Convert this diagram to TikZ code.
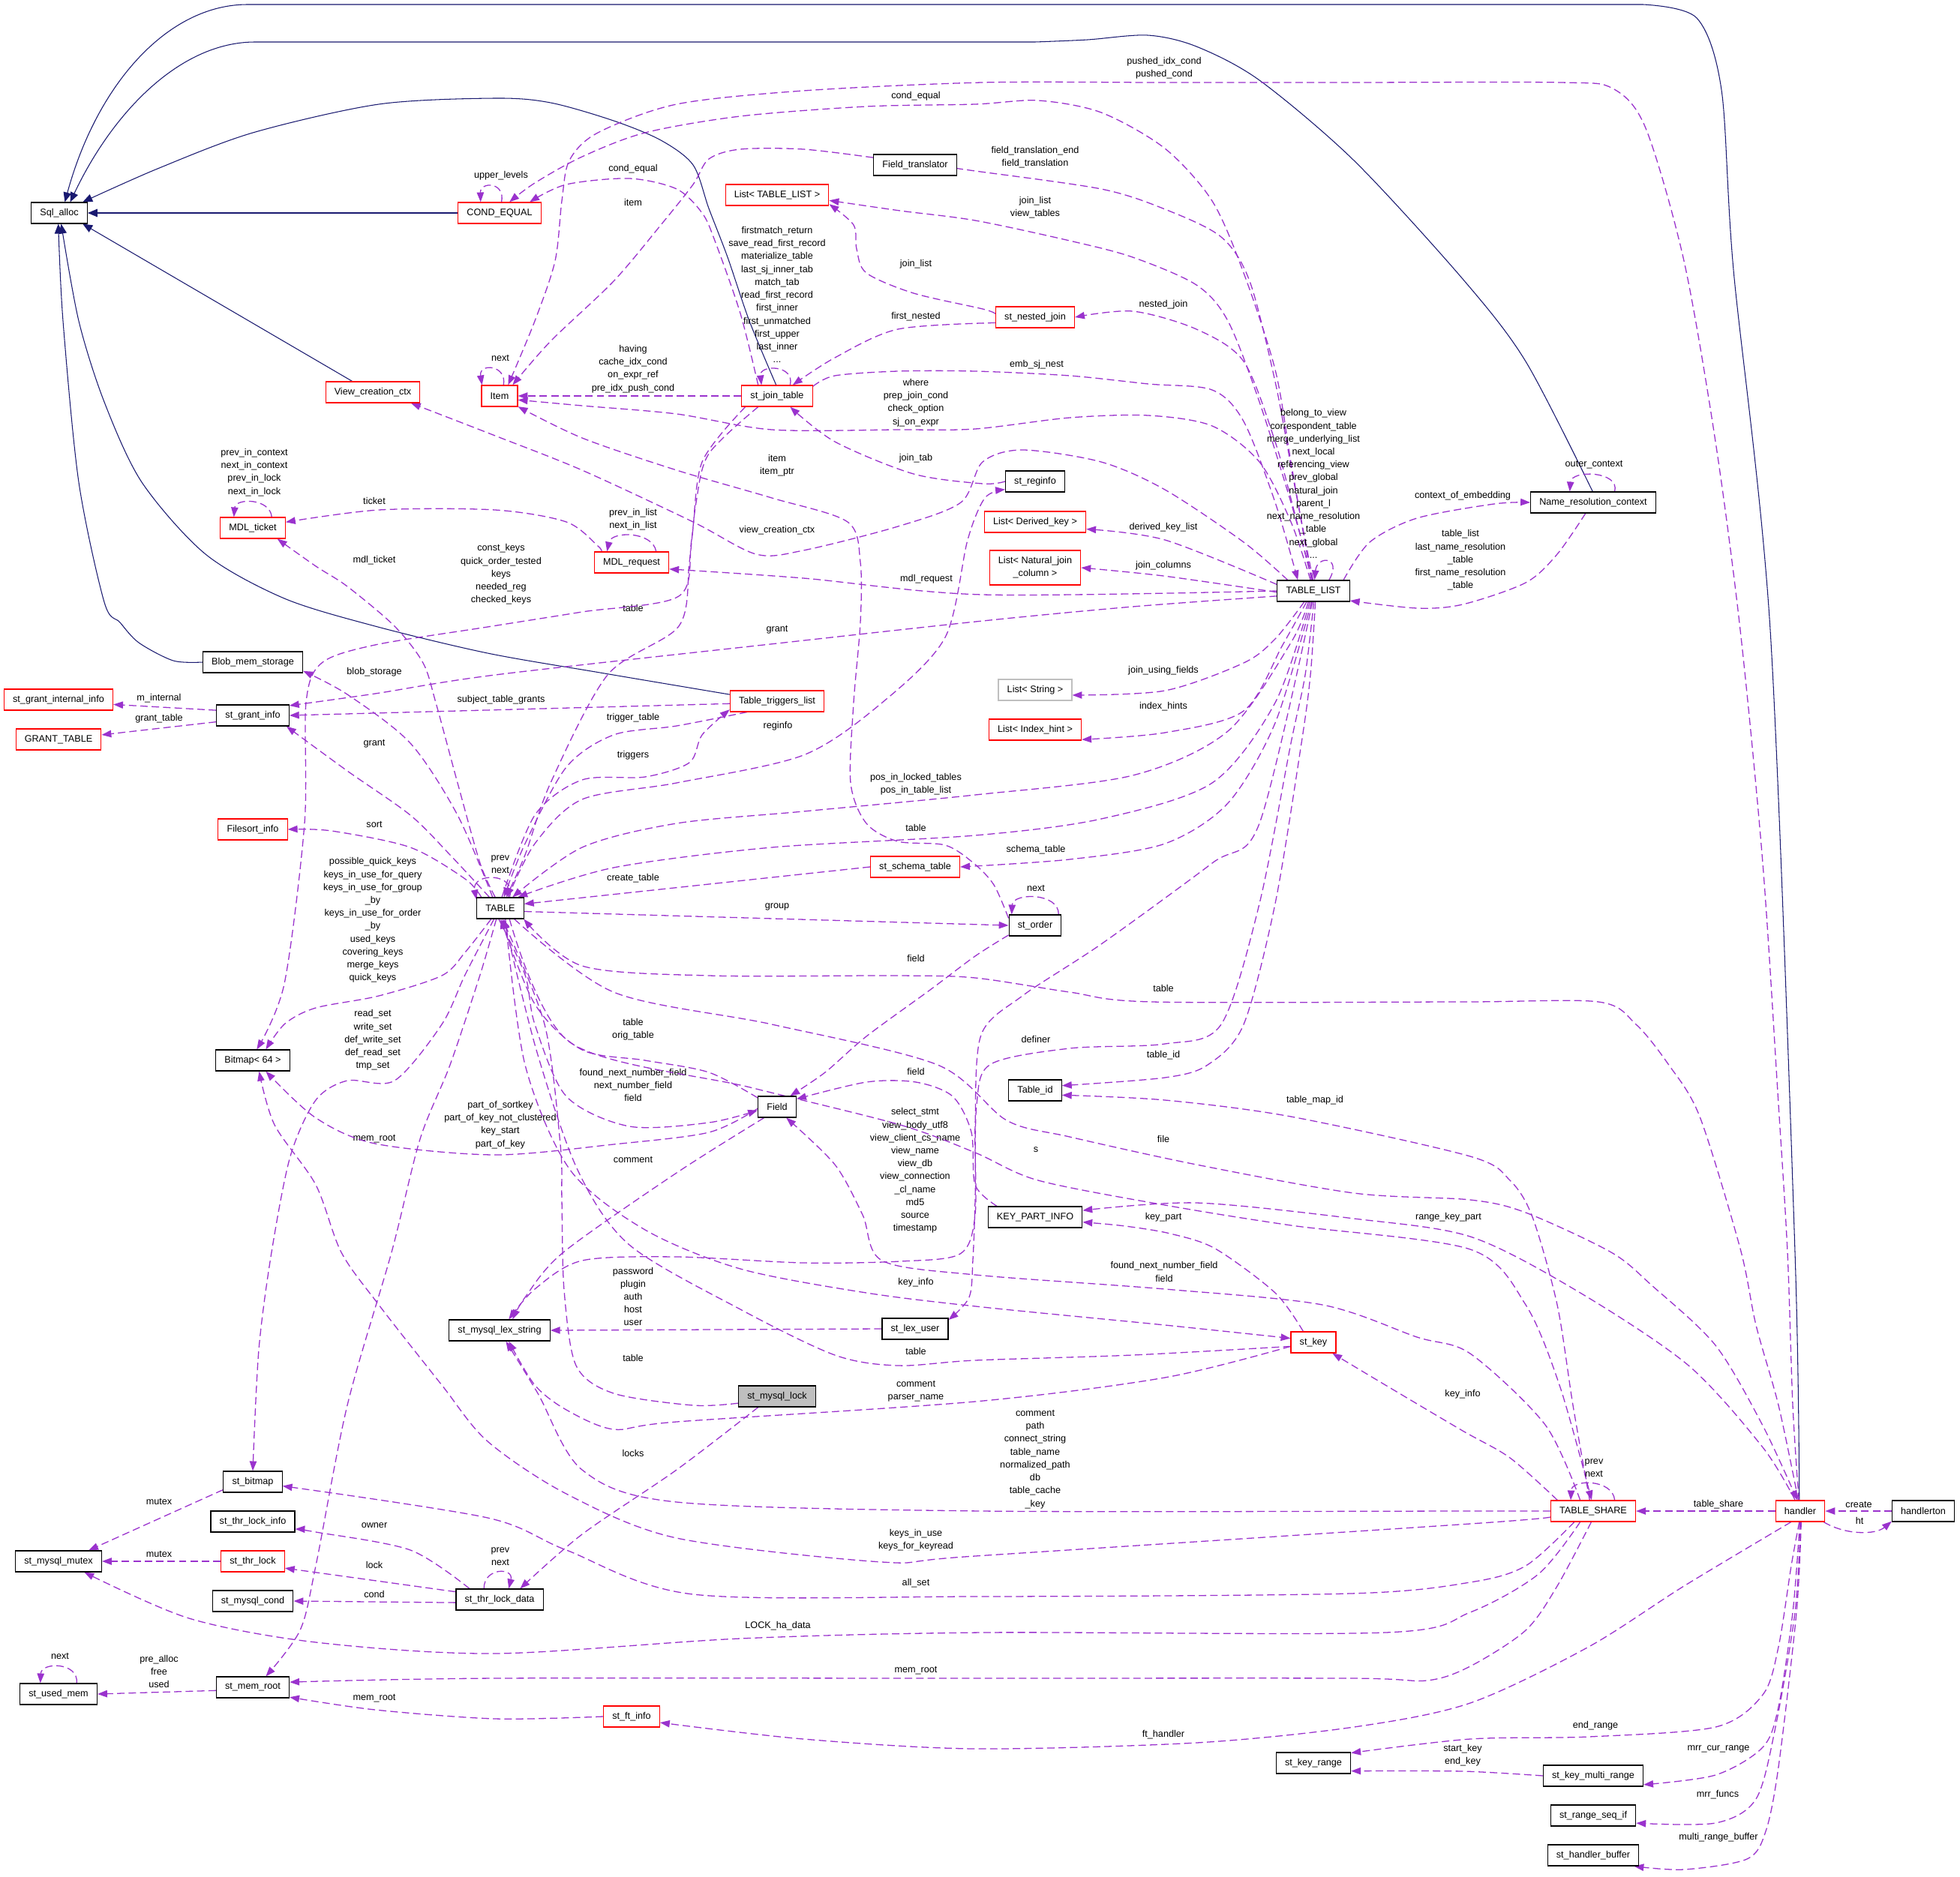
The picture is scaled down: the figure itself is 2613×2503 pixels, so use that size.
\documentclass[tikz,border=0pt]{standalone}
\usepackage{fontspec}
\setmainfont{Liberation Sans}
\usetikzlibrary{arrows.meta,backgrounds}
\definecolor{cNavy}{HTML}{191970}
\definecolor{cPurple}{HTML}{9A32CD}
\definecolor{cRed}{HTML}{FF0000}
\definecolor{cGray}{HTML}{BFBFBF}
\definecolor{cInk}{HTML}{000000}
\newcommand{\dfont}{\fontsize{10.8pt}{14.7pt}\selectfont}
\tikzset{
  cbox/.style={draw=#1,fill=white,line width=1pt,font=\dfont,align=center,minimum height=0.84cm,inner xsep=0.35cm,inner ysep=2pt,text=cInk},
  cbox/.default=cInk,
  rbox/.style={cbox=cRed},
  gbox/.style={cbox=cGray},
  mainbox/.style={cbox=cInk,fill=cGray},
  inherit/.style={-{Triangle[length=11pt,width=9pt]},line width=0.9pt,color=cNavy},
  usage/.style={-{Triangle[length=11pt,width=8pt]},line width=1.1pt,color=cPurple,dash pattern=on 8.5pt off 4.5pt},
  lbl/.style={font=\dfont,align=center,inner sep=0pt,text=cInk},
}

\begin{document}
\begin{tikzpicture}[x=0.03cm,y=-0.03cm]
\useasboundingbox (0,0) rectangle (2613,2503);
% classes
\node[cbox] (sqlalloc) at (79,284) {Sql\_alloc};
\node[rbox] (condeq) at (666,284) {COND\_EQUAL};
\node[rbox] (vcc) at (497,523) {View\_creation\_ctx};
\node[rbox] (mdlt) at (337,704) {MDL\_ticket};
\node[rbox] (item) at (666,528) {Item};
\node[cbox] (ftrans) at (1220,220) {Field\_translator};
\node[rbox] (ltl) at (1036,260) {List< TABLE\_LIST >};
\node[rbox] (sjt) at (1036,528) {st\_join\_table};
\node[rbox] (mdlr) at (842,750) {MDL\_request};
\node[rbox] (snj) at (1380,423) {st\_nested\_join};
\node[cbox] (reginfo) at (1380,642) {st\_reginfo};
\node[rbox] (ldk) at (1380,696) {List< Derived\_key >};
\node[rbox,minimum height=1.38cm] (lnjc) at (1380,757) {List< Natural\_join\\\_column >};
\node[cbox] (tlist) at (1751,788) {TABLE\_LIST};
\node[cbox] (nrc) at (2124,670) {Name\_resolution\_context};
\node[cbox] (blob) at (337,883) {Blob\_mem\_storage};
\node[rbox] (sgii) at (78,933) {st\_grant\_internal\_info};
\node[cbox] (sgi) at (337,954) {st\_grant\_info};
\node[rbox] (gtab) at (78,986) {GRANT\_TABLE};
\node[rbox] (fsort) at (337,1106) {Filesort\_info};
\node[cbox] (table) at (667,1211) {TABLE};
\node[cbox] (bitmap) at (337,1414) {Bitmap< 64 >};
\node[rbox] (ttl) at (1036,935) {Table\_triggers\_list};
\node[rbox] (sst) at (1220,1156) {st\_schema\_table};
\node[cbox] (field) at (1036,1476) {Field};
\node[gbox] (lstr) at (1380,920) {List< String >};
\node[rbox] (lih) at (1380,973) {List< Index\_hint >};
\node[cbox] (sorder) at (1380,1234) {st\_order};
\node[cbox] (tid) at (1380,1454) {Table\_id};
\node[cbox] (kpi) at (1380,1623) {KEY\_PART\_INFO};
\node[cbox] (lexstr) at (666,1774) {st\_mysql\_lex\_string};
\node[cbox] (sbitmap) at (337,1976) {st\_bitmap};
\node[cbox] (tli) at (337,2029) {st\_thr\_lock\_info};
\node[cbox] (mutex) at (78,2082) {st\_mysql\_mutex};
\node[rbox] (thrlock) at (337,2082) {st\_thr\_lock};
\node[cbox] (cond) at (337,2135) {st\_mysql\_cond};
\node[cbox] (tld) at (666,2133) {st\_thr\_lock\_data};
\node[cbox] (usedmem) at (78,2259) {st\_used\_mem};
\node[cbox] (memroot) at (337,2250) {st\_mem\_root};
\node[cbox] (lexuser) at (1220,1772) {st\_lex\_user};
\node[mainbox] (mlock) at (1036,1862) {st\_mysql\_lock};
\node[rbox] (ftinfo) at (842,2289) {st\_ft\_info};
\node[rbox] (skey) at (1751,1790) {st\_key};
\node[cbox] (krange) at (1751,2351) {st\_key\_range};
\node[rbox] (tshare) at (2124,2015) {TABLE\_SHARE};
\node[rbox] (handler) at (2400,2015) {handler};
\node[cbox] (hton) at (2564,2015) {handlerton};
\node[cbox] (kmr) at (2124,2368) {st\_key\_multi\_range};
\node[cbox] (rsi) at (2124,2421) {st\_range\_seq\_if};
\node[cbox] (hbuf) at (2124,2474) {st\_handler\_buffer};

\begin{scope}[on background layer]
\fill[white] (0,0) rectangle (2613,2503);
% inheritance
\draw[inherit] plot[smooth] coordinates {(handler.95) (2393,1670) (2360,840) (2311,360) (2295,120) (2262,24) (2190,6)} -- (330,6) .. controls (225,6) and (130,110) .. (sqlalloc.63);
\draw[inherit] plot[smooth] coordinates {(nrc.93) (2034,482) (1950,372) (1805,214) (1679,107) (1595,62) (1530,47) (1450,53) (1380,56)} -- (340,56) .. controls (240,56) and (150,150) .. (sqlalloc.45);
\draw[inherit] plot[smooth] coordinates {(sjt.95) (999,428) (970,343) (945,278) (924,220) (881,187) (818,161) (734,137) (660,131) (505,139) (337,177) (210,225) (sqlalloc.25)};
\draw[inherit] (condeq.west) -- (sqlalloc.east);
\draw[inherit] (vcc.152) -- (sqlalloc.-25);
\draw[inherit] plot[smooth] coordinates {(ttl.172) (800,897) (650,871) (500,835) (379,798) (274,739) (189,643) (139,536) (105,428) (sqlalloc.-80)};
\draw[inherit] plot[smooth] coordinates {(blob.west) (231,881) (185,857) (160,830) (139,803) (105,643) (84,428) (sqlalloc.-95)};

% COND_EQUAL and Item
\draw[usage] (condeq.80) .. controls (674,242) and (640,242) .. (condeq.150) node[lbl] at (668,234) {upper\_levels};
\draw[usage] plot[smooth] coordinates {(sjt.150) (987,418) (953,321) (936,284) (902,252) (839,238) (755,246) (condeq.20)} node[lbl] at (844,225) {cond\_equal};
\draw[usage] plot[smooth] coordinates {(tlist.100) (1721,616) (1700,493) (1658,364) (1616,268) (1553,198) (1468,150) (1384,134) (1300,139) (1155,142) (987,155) (860,177) (776,209) (713,244) (condeq.48)} node[lbl] at (1221,128) {cond\_equal};
\draw[usage] (item.70) .. controls (676,486) and (638,484) .. (item.148) node[lbl] at (667,477) {next};
\draw[usage] plot[smooth] coordinates {(handler.97) (2390,1874) (2383,1670) (2371,1473) (2350,1151) (2320,840) (2287,589) (2245,348) (2194,171) (2150,118) (2080,110) (1800,110) (1550,110) (1310,110) (1071,121) (902,139) (797,177) (759,214) (749,268) (740,348) (713,428) (item.52)} node[lbl] at (1552,91) {pushed\_idx\_cond\\pushed\_cond};
\draw[usage] plot[smooth] coordinates {(ftrans.170) (1071,199) (987,199) (945,212) (924,246) (881,300) (818,375) (734,455) (item.40)} node[lbl] at (844,270) {item};
\draw[usage] (sjt.west) -- (item.east) node[lbl] at (844,492) {having\\cache\_idx\_cond\\on\_expr\_ref\\pre\_idx\_push\_cond};
\draw[usage] plot[smooth] coordinates {(tlist.105) (1721,696) (1679,616) (1616,568) (1531,554) (1426,557) (1300,572) (1197,573) (1029,573) (902,552) (776,541) (item.-12)} node[lbl] at (1221,537) {where\\prep\_join\_cond\\check\_option\\sj\_on\_expr};
\draw[usage] plot[smooth] coordinates {(sorder.165) (1325,1180) (1298,1151) (1260,1127) (1197,1122) (1155,1098) (1134,1044) (1138,937) (1147,830) (1147,750) (1130,696) (1029,664) (902,627) (776,584) (item.-30)} node[lbl] at (1036,621) {item\\item\_ptr};
\draw[usage] plot[smooth] coordinates {(tlist.157) (1658,723) (1553,653) (1468,616) (1363,600) (1310,616) (1281,670) (1197,702) (1071,734) (1008,739) (924,696) (776,627) (660,581) (vcc.-16)} node[lbl] at (1036,707) {view\_creation\_ctx};

% MDL
\draw[usage] plot[smooth] coordinates {(tlist.west) (1310,793) (1071,771) (mdlr.-10)} node[lbl] at (1235,772) {mdl\_request};
\draw[usage] (mdlr.24) .. controls (870,708) and (815,708) .. (mdlr.156) node[lbl] at (844,693) {prev\_in\_list\\next\_in\_list};
\draw[usage] plot[smooth] coordinates {(mdlr.160) (797,728) (755,696) (660,680) (505,680) (mdlt.10)} node[lbl] at (499,668) {ticket};
\draw[usage] (mdlt.30) .. controls (360,664) and (314,664) .. (mdlt.150) node[lbl] at (339,630) {prev\_in\_context\\next\_in\_context\\prev\_in\_lock\\next\_in\_lock};
\draw[usage] plot[smooth] coordinates {(table.115) (640,1151) (610,1044) (581,937) (564,884) (526,835) (463,782) (421,755) (mdlt.-24)} node[lbl] at (499,747) {mdl\_ticket};

% join structures
\draw[usage] plot[smooth] coordinates {(tlist.95) (1721,670) (1679,536) (1637,428) (1595,380) (1510,343) (1426,321) (1300,294) (1200,281) (ltl.-6)} node[lbl] at (1380,277) {join\_list\\view\_tables};
\draw[usage] plot[smooth] coordinates {(snj.175) (1310,412) (1218,391) (1155,364) (1142,332) (1138,300) (ltl.-10)} node[lbl] at (1221,352) {join\_list};
\draw[usage] plot[smooth] coordinates {(snj.188) (1197,439) (1113,477) (sjt.35)} node[lbl] at (1221,422) {first\_nested};
\draw[usage] plot[smooth] coordinates {(tlist.98) (1729,696) (1700,589) (1658,482) (1595,439) (1510,415) (snj.east)} node[lbl] at (1551,406) {nested\_join};
\draw[usage] plot[smooth] coordinates {(tlist.92) (1725,643) (1700,509) (1666,375) (1628,316) (1553,279) (1468,252) (1300,228) (ftrans.-5)} node[lbl] at (1380,210) {field\_translation\_end\\field\_translation};
\draw[usage] plot[smooth] coordinates {(sjt.15) (1113,501) (1197,495) (1300,495) (1426,501) (1531,512) (1616,520) (1658,562) (1700,670) (tlist.145)} node[lbl] at (1382,486) {emb\_sj\_nest};
\draw[usage] (tlist.35) .. controls (1790,742) and (1756,740) .. (tlist.85) node[lbl] at (1751,645) {belong\_to\_view\\correspondent\_table\\merge\_underlying\_list\\next\_local\\referencing\_view\\prev\_global\\natural\_join\\parent\_l\\next\_name\_resolution\\\_table\\next\_global\\...};
\draw[usage] (sjt.40) .. controls (1060,486) and (1012,486) .. (sjt.145) node[lbl] at (1036,393) {firstmatch\_return\\save\_read\_first\_record\\materialize\_table\\last\_sj\_inner\_tab\\match\_tab\\read\_first\_record\\first\_inner\\first\_unmatched\\first\_upper\\last\_inner\\...};
\draw[usage] plot[smooth] coordinates {(reginfo.west) (1310,645) (1218,632) (1113,589) (sjt.-40)} node[lbl] at (1221,611) {join\_tab};
\draw[usage] plot[smooth] coordinates {(table.55) (713,1125) (776,1066) (902,1044) (1071,1007) (1176,937) (1260,850) (1290,720) (1313,664) (reginfo.-165)} node[lbl] at (1037,968) {reginfo};
\draw[usage] plot[smooth] coordinates {(tlist.170) (1553,720) (ldk.-8)} node[lbl] at (1551,703) {derived\_key\_list};
\draw[usage] plot[smooth] coordinates {(tlist.182) (1551,768) (lnjc.east)} node[lbl] at (1551,754) {join\_columns};

% name resolution
\draw[usage] plot[smooth] coordinates {(tlist.20) (1826,723) (1889,691) (1992,672) (nrc.west)} node[lbl] at (1950,661) {context\_of\_embedding};
\draw[usage] plot[smooth] coordinates {(nrc.-125) (2076,739) (2034,777) (1950,806) (1889,811) (tlist.-15)} node[lbl] at (1947,747) {table\_list\\last\_name\_resolution\\\_table\\first\_name\_resolution\\\_table};
\draw[usage] (nrc.27) .. controls (2160,628) and (2095,626) .. (nrc.155) node[lbl] at (2125,620) {outer\_context};

% TABLE_LIST below
\draw[usage] plot[smooth] coordinates {(tlist.-130) (1700,852) (1658,884) (1553,921) (lstr.-8)} node[lbl] at (1551,894) {join\_using\_fields};
\draw[usage] plot[smooth] coordinates {(tlist.-122) (1710,860) (1658,948) (1553,977) (lih.-12)} node[lbl] at (1551,942) {index\_hints};
\draw[usage] plot[smooth] coordinates {(tlist.-115) (1721,857) (1637,975) (1510,1034) (1300,1060) (1071,1082) (902,1098) (776,1130) (table.42)} node[lbl] at (1221,1046) {pos\_in\_locked\_tables\\pos\_in\_table\_list};
\draw[usage] plot[smooth] coordinates {(tlist.-108) (1700,937) (1616,1044) (1468,1092) (1300,1114) (1029,1130) (818,1157) (table.32)} node[lbl] at (1221,1104) {table};
\draw[usage] plot[smooth] coordinates {(tlist.-100) (1700,964) (1637,1071) (1553,1125) (1426,1146) (sst.east)} node[lbl] at (1381,1133) {schema\_table};
\draw[usage] (sst.west) -- (table.10) node[lbl] at (844,1171) {create\_table};
\draw[usage] (table.-8) -- (sorder.west) node[lbl] at (1036,1209) {group};
\draw[usage] (sorder.25) .. controls (1412,1190) and (1350,1190) .. (sorder.155) node[lbl] at (1381,1184) {next};
\draw[usage] plot[smooth] coordinates {(sorder.-160) (1300,1275) (1240,1320) (1155,1382) (1100,1430) (field.40)} node[lbl] at (1221,1278) {field};
\draw[usage] plot[smooth] coordinates {(tlist.-95) (1679,1098) (1616,1151) (1468,1259) (1363,1328) (1308,1380) (1300,1500) (1300,1620) (1280,1672) (1200,1682) (1071,1684) (902,1676) (776,1681) (713,1719) (lexstr.50)} node[lbl] at (1220,1561) {select\_stmt\\view\_body\_utf8\\view\_client\_cs\_name\\view\_name\\view\_db\\view\_connection\\\_cl\_name\\md5\\source\\timestamp};
\draw[usage] plot[smooth] coordinates {(tlist.-88) (1740,900) (1721,991) (1679,1205) (1628,1366) (1553,1392) (1426,1398) (1321,1419) (1302,1473) (1300,1600) (1297,1680) (1292,1730) (lexuser.15)} node[lbl] at (1381,1386) {definer};
\draw[usage] plot[smooth] coordinates {(tlist.-80) (1747,900) (1735,991) (1700,1205) (1658,1366) (1610,1420) (1553,1437) (tid.10)} node[lbl] at (1551,1407) {table\_id};

% TABLE upward
\draw[usage] (table.50) .. controls (690,1163) and (628,1163) .. (table.160) node[lbl] at (667,1153) {prev\\next};
\draw[usage] plot[smooth] coordinates {(table.125) (610,1087) (547,991) (463,926) (blob.-10)} node[lbl] at (499,896) {blob\_storage};
\draw[usage] plot[smooth] coordinates {(table.135) (600,1140) (547,1087) (463,1028) (sgi.-18)} node[lbl] at (499,992) {grant};
\draw[usage] plot[smooth] coordinates {(tlist.188) (1510,809) (1310,828) (1036,858) (660,900) (500,925) (sgi.15)} node[lbl] at (1036,840) {grant};
\draw[usage] (ttl.-177) -- (sgi.east) node[lbl] at (668,933) {subject\_table\_grants};
\draw[usage] (sgi.172) -- (sgii.-5) node[lbl] at (212,931) {m\_internal};
\draw[usage] (sgi.-170) -- (gtab.6) node[lbl] at (212,958) {grant\_table};
\draw[usage] plot[smooth] coordinates {(table.150) (620,1172) (547,1130) (442,1108) (fsort.east)} node[lbl] at (499,1099) {sort};
\draw[usage] plot[smooth] coordinates {(table.82) (713,1087) (776,1040) (860,1036) (919,1017) (936,980) (ttl.-170)} node[lbl] at (844,1007) {triggers};
\draw[usage] plot[smooth] coordinates {(ttl.-160) (902,968) (818,980) (755,1023) (700,1125) (table.72)} node[lbl] at (844,957) {trigger\_table};
\draw[usage] plot[smooth] coordinates {(sjt.-150) (945,605) (928,670) (919,750) (905,835) (810,900) (734,1044) (700,1140) (table.62)} node[lbl] at (844,811) {table};
\draw[usage] plot[smooth] coordinates {(sjt.-161) (936,616) (922,720) (905,795) (776,816) (650,836) (500,860) (429,884) (408,937) (406,1098) (379,1312) (bitmap.70)} node[lbl] at (668,766) {const\_keys\\quick\_order\_tested\\keys\\needed\_reg\\checked\_keys};

% TABLE downward
\draw[usage] plot[smooth] coordinates {(table.-130) (620,1270) (589,1301) (505,1328) (421,1344) (380,1365) (bitmap.40)} node[lbl] at (497,1227) {possible\_quick\_keys\\keys\_in\_use\_for\_query\\keys\_in\_use\_for\_group\\\_by\\keys\_in\_use\_for\_order\\\_by\\used\_keys\\covering\_keys\\merge\_keys\\quick\_keys};
\draw[usage] plot[smooth] coordinates {(table.-120) (620,1300) (589,1366) (526,1441) (463,1441) (421,1467) (387,1542) (362,1670) (345,1800) (sbitmap.north)} node[lbl] at (497,1387) {read\_set\\write\_set\\def\_write\_set\\def\_read\_set\\tmp\_set};
\draw[usage] plot[smooth] coordinates {(table.-110) (640,1300) (600,1420) (560,1519) (522,1670) (463,1874) (421,2088) (400,2174) (memroot.40)} node[lbl] at (499,1519) {mem\_root};
\draw[usage] plot[smooth] coordinates {(field.155) (945,1430) (860,1414) (776,1400) (713,1339) (table.-88)} node[lbl] at (844,1373) {table\\orig\_table};
\draw[usage] plot[smooth] coordinates {(table.-98) (700,1300) (713,1366) (755,1462) (839,1502) (945,1497) (field.-170)} node[lbl] at (844,1447) {found\_next\_number\_field\\next\_number\_field\\field};
\draw[usage] plot[smooth] coordinates {(field.-175) (945,1510) (818,1526) (660,1540) (500,1525) (420,1490) (bitmap.-40)} node[lbl] at (667,1500) {part\_of\_sortkey\\part\_of\_key\_not\_clustered\\key\_start\\part\_of\_key};
\draw[usage] plot[smooth] coordinates {(handler.100) (2371,1874) (2341,1767) (2320,1665) (2266,1489) (2224,1419) (2181,1366) (2131,1336) (1950,1336) (1536,1336) (1426,1323) (1300,1304) (1197,1301) (945,1301) (776,1288) (table.-25)} node[lbl] at (1551,1318) {table};
\draw[usage] plot[smooth] coordinates {(table.-38) (818,1323) (1029,1366) (1250,1420) (1342,1494) (1426,1516) (1595,1553) (1805,1591) (1960,1600) (2034,1617) (2148,1670) (2202,1714) (2287,1794) (2350,1901) (handler.105)} node[lbl] at (1551,1519) {file};
\draw[usage] plot[smooth] coordinates {(table.-50) (760,1390) (1000,1450) (1200,1500) (1300,1537) (1384,1574) (1553,1607) (1721,1634) (1960,1666) (2034,1740) (2080,1850) (tshare.98)} node[lbl] at (1381,1533) {s};
\draw[usage] plot[smooth] coordinates {(table.-65) (700,1420) (760,1560) (860,1640) (987,1692) (1155,1724) (1310,1743) (1553,1767) (skey.170)} node[lbl] at (1221,1710) {key\_info};
\draw[usage] plot[smooth] coordinates {(skey.190) (1510,1807) (1300,1814) (1197,1821) (1113,1807) (987,1746) (839,1660) (770,1560) (715,1400) (table.-72)} node[lbl] at (1221,1802) {table};
\draw[usage] plot[smooth] coordinates {(mlock.-170) (924,1874) (818,1858) (768,1821) (752,1720) (749,1600) (747,1526) (726,1366) (table.-80)} node[lbl] at (844,1811) {table};

% Field, KEY_PART_INFO, st_key
\draw[usage] plot[smooth] coordinates {(kpi.164) (1300,1580) (1295,1510) (1270,1462) (1221,1443) (1155,1443) (field.22)} node[lbl] at (1221,1429) {field};
\draw[usage] plot[smooth] coordinates {(handler.115) (2350,1930) (2250,1820) (2100,1720) (1960,1649) (1805,1625) (1595,1604) (kpi.8)} node[lbl] at (1931,1623) {range\_key\_part};
\draw[usage] plot[smooth] coordinates {(skey.133) (1700,1724) (1620,1665) (1560,1645) (1500,1635) (kpi.-6)} node[lbl] at (1551,1623) {key\_part};
\draw[usage] plot[smooth] coordinates {(tshare.108) (2097,1874) (2076,1740) (2043,1623) (2013,1574) (1960,1542) (1721,1489) (1553,1467) (tid.-10)} node[lbl] at (1753,1467) {table\_map\_id};
\draw[usage] plot[smooth] coordinates {(tshare.140) (2060,1900) (1960,1805) (1889,1783) (1763,1740) (1553,1719) (1300,1700) (1176,1681) (1150,1620) (1113,1553) (field.-50)} node[lbl] at (1552,1696) {found\_next\_number\_field\\field};
\draw[usage] plot[smooth] coordinates {(tshare.163) (2013,1944) (1950,1908) (1847,1847) (skey.-30)} node[lbl] at (1950,1859) {key\_info};
\draw[usage] (tshare.27) .. controls (2150,1972) and (2095,1972) .. (tshare.154) node[lbl] at (2125,1958) {prev\\next};

% st_mysql_lex_string
\draw[usage] (lexuser.west) -- (lexstr.east) node[lbl] at (844,1729) {password\\plugin\\auth\\host\\user};
\draw[usage] plot[smooth] coordinates {(field.-140) (902,1564) (751,1670) (700,1730) (lexstr.40)} node[lbl] at (844,1546) {comment};
\draw[usage] plot[smooth] coordinates {(skey.-170) (1553,1837) (1300,1869) (902,1896) (818,1906) (755,1880) (713,1847) (lexstr.-50)} node[lbl] at (1221,1855) {comment\\parser\_name};
\draw[usage] plot[smooth] coordinates {(tshare.west) (1960,2015) (1310,2015) (902,2003) (776,1960) (717,1858) (lexstr.-60)} node[lbl] at (1380,1946) {comment\\path\\connect\_string\\table\_name\\normalized\_path\\db\\table\_cache\\\_key};

% bitmaps, locks, memory
\draw[usage] plot[smooth] coordinates {(tshare.-172) (1960,2032) (1300,2075) (1176,2083) (902,2051) (755,1992) (650,1922) (589,1847) (505,1740) (455,1670) (421,1580) (366,1500) (bitmap.-60)} node[lbl] at (1221,2054) {keys\_in\_use\\keys\_for\_keyread};
\draw[usage] plot[smooth] coordinates {(tshare.-150) (2034,2088) (1960,2110) (1800,2125) (1300,2129) (924,2126) (755,2067) (650,2024) (sbitmap.-8)} node[lbl] at (1221,2111) {all\_set};
\draw[usage] plot[smooth] coordinates {(tshare.-140) (2051,2099) (1960,2150) (1847,2177) (1310,2177) (987,2185) (660,2205) (421,2190) (252,2158) (mutex.-23)} node[lbl] at (1037,2168) {LOCK\_ha\_data};
\draw[usage] plot[smooth] coordinates {(tshare.-100) (2076,2115) (2034,2174) (1960,2222) (1902,2241) (1800,2238) (1300,2238) (660,2238) (memroot.8)} node[lbl] at (1221,2228) {mem\_root};
\draw[usage] plot[smooth] coordinates {(handler.-130) (2245,2115) (2118,2196) (1960,2271) (1805,2303) (1595,2324) (1300,2332) (1071,2319) (ftinfo.-12)} node[lbl] at (1551,2313) {ft\_handler};
\draw[usage] plot[smooth] coordinates {(ftinfo.west) (660,2292) (500,2280) (memroot.-15)} node[lbl] at (499,2265) {mem\_root};
\draw[usage] (memroot.-175) -- (usedmem.east) node[lbl] at (212,2229) {pre\_alloc\\free\\used};
\draw[usage] (usedmem.31) .. controls (105,2216) and (55,2216) .. (usedmem.149) node[lbl] at (80,2208) {next};
\draw[usage] (sbitmap.-165) -- (mutex.20) node[lbl] at (212,2002) {mutex};
\draw[usage] (thrlock.west) -- (mutex.east) node[lbl] at (212,2072) {mutex};
\draw[usage] plot[smooth] coordinates {(tld.160) (547,2067) (421,2043) (tli.-10)} node[lbl] at (499,2034) {owner};
\draw[usage] (tld.170) -- (thrlock.-12) node[lbl] at (499,2087) {lock};
\draw[usage] (tld.-176) -- (cond.east) node[lbl] at (499,2126) {cond};
\draw[usage] (tld.145) .. controls (645,2090) and (685,2090) .. (tld.50) node[lbl] at (667,2076) {prev\\next};
\draw[usage] plot[smooth] coordinates {(mlock.-150) (902,1960) (776,2046) (tld.28)} node[lbl] at (844,1938) {locks};

% handler
\draw[usage] (handler.west) -- (tshare.east) node[lbl] at (2291,2006) {table\_share};
\draw[usage] (hton.west) -- (handler.east) node[lbl] at (2478,2006) {create};
\draw[usage] (handler.-25) .. controls (2460,2047) and (2500,2047) .. (hton.-162) node[lbl] at (2479,2028) {ht};
\draw[usage] plot[smooth] coordinates {(handler.-95) (2388,2088) (2371,2196) (2350,2260) (2287,2303) (2118,2316) (1960,2319) (krange.15)} node[lbl] at (2127,2301) {end\_range};
\draw[usage] plot[smooth] coordinates {(kmr.west) (1950,2362) (krange.-12)} node[lbl] at (1950,2341) {start\_key\\end\_key};
\draw[usage] plot[smooth] coordinates {(handler.-92) (2390,2150) (2371,2276) (2350,2330) (2287,2367) (kmr.-10)} node[lbl] at (2291,2332) {mrr\_cur\_range};
\draw[usage] plot[smooth] coordinates {(handler.-88) (2393,2150) (2367,2303) (2341,2399) (2287,2431) (rsi.-10)} node[lbl] at (2290,2393) {mrr\_funcs};
\draw[usage] plot[smooth] coordinates {(handler.-85) (2395,2150) (2371,2356) (2354,2442) (2329,2479) (2245,2493) (hbuf.-15)} node[lbl] at (2291,2450) {multi\_range\_buffer};
\end{scope}
\end{tikzpicture}
\end{document}
